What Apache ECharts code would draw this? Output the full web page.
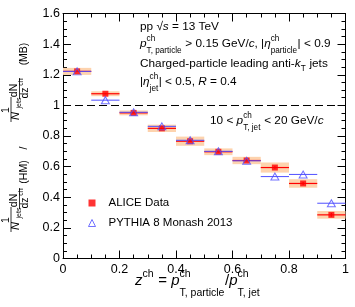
<!DOCTYPE html>
<html><head><meta charset="utf-8">
<script src="https://cdn.jsdelivr.net/npm/echarts@6/dist/echarts.min.js"></script>
<style>html,body{margin:0;padding:0;background:#fff}#c{width:355px;height:307px}</style>
</head><body><div id="c"></div>
<script>
// ---- data ----
const zCenters = [0.05, 0.15, 0.25, 0.35, 0.45, 0.55, 0.65, 0.75, 0.85, 0.95];
const binHalfWidth = 0.05;
const aliceValues = [1.222, 1.076, 0.951, 0.850, 0.766, 0.697, 0.640, 0.594, 0.490, 0.285];
const aliceSys = [0.023, 0.016, 0.016, 0.024, 0.030, 0.022, 0.024, 0.033, 0.028, 0.025];
const aliceStat = [0.004, 0.004, 0.003, 0.004, 0.004, 0.005, 0.006, 0.008, 0.010, 0.012];
const pythiaValues = [1.222, 1.034, 0.955, 0.863, 0.772, 0.700, 0.638, 0.535, 0.549, 0.361];
const xTickLabels = ['0', '0.2', '0.4', '0.6', '0.8', '1'];
const yTickLabels = ['0', '0.2', '0.4', '0.6', '0.8', '1', '1.2', '1.4', '1.6'];

const FF = '"Liberation Sans", Arial, Helvetica, sans-serif';
const RED = '#ff0000', BLUE = '#4f4fff', BOX = '#fdd3ae';

const mctx = document.createElement('canvas').getContext('2d');
function measure(t, size, italic) {
  mctx.font = (italic ? 'italic ' : '') + size + 'px ' + FF;
  return mctx.measureText(t).width;
}
function T(text, x, y, size, italic) {
  return { type: 'text', x: x, y: y, silent: true,
    style: { text: text, fontSize: size, fontFamily: FF, fontStyle: italic ? 'italic' : 'normal',
      fill: '#000', align: 'left', verticalAlign: 'middle' } };
}
// layout a line of tokens: strings, {t,i}, {sup,sub}
function richLine(x, y, size, subSize, supOff, subOff, tokens) {
  const els = []; let cx = x;
  tokens.forEach(tk => {
    if (typeof tk === 'string') tk = { t: tk };
    if (tk.t !== undefined) {
      els.push(T(tk.t, cx, y, size, tk.i));
      cx += measure(tk.t, size, tk.i);
    } else {
      let wm = 0;
      if (tk.sup) { els.push(T(tk.sup, cx, y + supOff, subSize, false)); wm = Math.max(wm, measure(tk.sup, subSize)); }
      if (tk.sub) { els.push(T(tk.sub, cx, y + subOff, subSize, false)); wm = Math.max(wm, measure(tk.sub, subSize)); }
      cx += wm + 0.5;
    }
  });
  return els;
}

const graphics = [];
// top-right text block
const S = 11.8, SS = 8.2;
graphics.push(...richLine(140, 27, S, SS, -5.5, 7, ['pp ', '\u221A', { t: 's', i: true }, ' = 13 TeV']));
graphics.push(...richLine(140, 44, S, SS, -5.5, 7, [{ t: 'p', i: true }, { sup: 'ch', sub: 'T, particle' },
  ' > 0.15 GeV/', { t: 'c', i: true }, ', |', { t: '\u03B7', i: true }, { sup: 'ch', sub: 'particle' }, '| < 0.9']));
graphics.push(...richLine(140, 64, S, SS, -5.5, 5, ['Charged-particle leading anti-', { t: 'k', i: true }, { sub: 'T' }, ' jets']));
graphics.push(...richLine(140, 82, S, SS, -5.5, 7, ['|', { t: '\u03B7', i: true }, { sup: 'ch', sub: 'jet' }, '| < 0.5, ', { t: 'R', i: true }, ' = 0.4']));
graphics.push(...richLine(210, 121, S, SS, -5.5, 7, ['10 < ', { t: 'p', i: true }, { sup: 'ch', sub: 'T, jet' }, ' < 20 GeV/', { t: 'c', i: true }]));
// x-axis title
graphics.push(...richLine(135, 281, 15, 10.5, -6.5, 12, [{ t: 'z', i: true }, { sup: 'ch' }, ' = ', { t: 'p', i: true },
  { sup: 'ch', sub: 'T, particle' }, '/', { t: 'p', i: true }, { sup: 'ch', sub: 'T, jet' }]));

// y-axis title (rotated pieces)
function R(text, x, y, size, italic) {
  return { type: 'text', x: x, y: y, rotation: Math.PI / 2, silent: true,
    style: { text: text, fontSize: size, fontFamily: FF, fontStyle: italic ? 'italic' : 'normal',
      fill: '#000', align: 'center', verticalAlign: 'middle' } };
}
function VL(x, y1, y2) {
  return { type: 'line', silent: true, shape: { x1: x, y1: y1, x2: x, y2: y2 }, style: { stroke: '#000', lineWidth: 0.8 } };
}
function yTitlePart(o, tag, tagY) {
  return [
    R('1', 6.5, 220 + o, 10.5, false), VL(11, 207 + o, 232 + o),
    R('N', 16, 226 + o, 11, true), R('jets', 19.5, 213 + o, 7, false),
    R('dN', 14.5, 200.5 + o, 10.5, false), VL(19.5, 188 + o, 209 + o),
    R('dz', 25, 203 + o, 10.5, false), R('ch', 21, 192 + o, 7, false),
    R(tag, 24.5, tagY, 10.5, false)
  ];
}
graphics.push(...yTitlePart(0, '(HM)', 172));
graphics.push(R('/', 24.5, 148, 10.5, false));
graphics.push(...yTitlePart(-110, '(MB)', 54));

const chart = echarts.init(document.getElementById('c'), null, { renderer: 'canvas' });
const axisCommon = {
  min: 0, axisLine: { show: true, onZero: false, lineStyle: { color: '#000', width: 1 } },
  axisTick: { show: true, inside: true, length: 8, lineStyle: { color: '#000' } },
  minorTick: { show: true, splitNumber: 4, length: 4, lineStyle: { color: '#000' } },
  splitLine: { show: false }
};
const xLab = { fontFamily: FF, fontSize: 12.5, color: '#000', margin: 5,
  formatter: v => xTickLabels[Math.round(v / 0.2)] };
const yLab = { fontFamily: FF, fontSize: 12.5, color: '#000', margin: 3,
  formatter: v => yTickLabels[Math.round(v / 0.2)] };

chart.setOption({
  animation: false,
  backgroundColor: '#fff',
  grid: { left: 63, right: 9.5, top: 13.5, bottom: 48.5 },
  xAxis: [
    Object.assign({}, axisCommon, { type: 'value', max: 1, interval: 0.2, position: 'bottom', axisLabel: xLab }),
    Object.assign({}, axisCommon, { type: 'value', max: 1, interval: 0.2, position: 'top', axisLabel: { show: false } })
  ],
  yAxis: [
    Object.assign({}, axisCommon, { type: 'value', max: 1.6, interval: 0.2, position: 'left', axisLabel: yLab }),
    Object.assign({}, axisCommon, { type: 'value', max: 1.6, interval: 0.2, position: 'right', axisLabel: { show: false } })
  ],
  legend: {
    orient: 'vertical', left: 83, top: 191, itemWidth: 7, itemHeight: 7, itemGap: 6, selectedMode: false,
    textStyle: { fontFamily: FF, fontSize: 11.5, color: '#000', padding: [0, 0, 0, 8], lineHeight: 14 },
    data: [
      { name: 'ALICE Data', icon: 'rect', itemStyle: { color: RED } },
      { name: 'PYTHIA 8 Monash 2013', icon: 'triangle', itemStyle: { color: 'rgba(0,0,0,0)', borderColor: BLUE, borderWidth: 1 } }
    ]
  },
  graphic: graphics,
  series: [
    {
      type: 'custom', name: 'sys', silent: true, z: 1,
      data: zCenters.map((z, i) => [z, aliceValues[i], aliceSys[i]]),
      encode: { x: 0, y: 1 },
      renderItem: (p, api) => {
        const z = api.value(0), v = api.value(1), s = api.value(2);
        const a = api.coord([z - binHalfWidth, v + s]);
        const b = api.coord([z + binHalfWidth, v - s]);
        return { type: 'rect', shape: { x: a[0], y: a[1], width: b[0] - a[0], height: b[1] - a[1] }, style: { fill: BOX } };
      }
    },
    {
      type: 'custom', name: 'aliceStat', silent: true, z: 2,
      data: zCenters.map((z, i) => [z, aliceValues[i], aliceStat[i]]),
      encode: { x: 0, y: 1 },
      renderItem: (p, api) => {
        const z = api.value(0), v = api.value(1), s = api.value(2);
        const l = api.coord([z - binHalfWidth, v]), r = api.coord([z + binHalfWidth, v]);
        const t = api.coord([z, v + s]), b = api.coord([z, v - s]);
        return { type: 'group', children: [
          { type: 'line', shape: { x1: l[0], y1: l[1], x2: r[0], y2: r[1] }, style: { stroke: RED, lineWidth: 1.2 } },
          { type: 'line', shape: { x1: t[0], y1: t[1], x2: b[0], y2: b[1] }, style: { stroke: RED, lineWidth: 1.2 } }
        ] };
      }
    },
    {
      type: 'custom', name: 'pythiaBins', silent: true, z: 3,
      data: zCenters.map((z, i) => [z, pythiaValues[i]]),
      encode: { x: 0, y: 1 },
      renderItem: (p, api) => {
        const z = api.value(0), v = api.value(1);
        const l = api.coord([z - binHalfWidth, v]), r = api.coord([z + binHalfWidth, v]);
        return { type: 'line', shape: { x1: l[0], y1: l[1], x2: r[0], y2: r[1] }, style: { stroke: BLUE, lineWidth: 1 } };
      }
    },
    {
      type: 'scatter', name: 'ALICE Data', z: 4, symbol: 'rect', symbolSize: 6,
      itemStyle: { color: RED },
      data: zCenters.map((z, i) => [z, aliceValues[i]]),
      markLine: {
        silent: true, symbol: ['none', 'none'], label: { show: false },
        lineStyle: { color: '#000', type: [8, 4], width: 1 },
        data: [{ yAxis: 1 }]
      }
    },
    {
      type: 'scatter', name: 'PYTHIA 8 Monash 2013', z: 5, symbol: 'triangle', symbolSize: [8, 7],
      itemStyle: { color: 'rgba(0,0,0,0)', borderColor: BLUE, borderWidth: 1 },
      data: zCenters.map((z, i) => [z, pythiaValues[i]])
    }
  ]
});
</script>
</body></html>
